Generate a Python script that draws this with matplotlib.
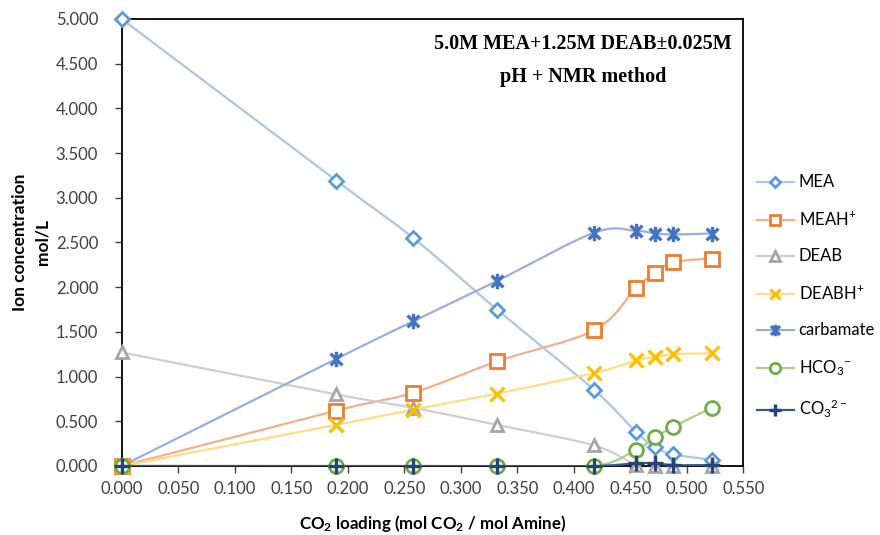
import numpy as np
import matplotlib
matplotlib.use("Agg")
import matplotlib.pyplot as plt
from matplotlib.path import Path

plt.rcParams['font.family'] = ['Lato', 'DejaVu Sans']
plt.rcParams['mathtext.fontset'] = 'custom'
plt.rcParams['mathtext.rm'] = 'Lato'
plt.rcParams['mathtext.bf'] = 'Lato:bold'
plt.rcParams['mathtext.it'] = 'Lato:italic'

loading = [0.0, 0.19, 0.258, 0.332, 0.418, 0.455, 0.472, 0.488, 0.522]
mea = [5.00, 3.19, 2.55, 1.75, 0.85, 0.38, 0.21, 0.13, 0.07]
meah = [0.00, 0.62, 0.82, 1.17, 1.52, 1.99, 2.16, 2.28, 2.32]
deab = [1.27, 0.80, 0.65, 0.46, 0.23, 0.01, 0.00, 0.00, 0.00]
deabh = [0.00, 0.46, 0.63, 0.81, 1.04, 1.18, 1.22, 1.25, 1.26]
carbamate = [0.00, 1.20, 1.62, 2.07, 2.61, 2.63, 2.60, 2.59, 2.60]
hco3 = [0.00, 0.00, 0.00, 0.00, 0.00, 0.18, 0.32, 0.44, 0.65]
co3 = [0.00, 0.00, 0.00, 0.00, 0.00, 0.03, 0.03, 0.01, 0.01]

labels = ['MEA', 'MEAH$^{+}$', 'DEAB', 'DEABH$^{+}$', 'carbamate',
          'HCO$_3$$^{-}$', 'CO$_3$$^{2-}$']
series = [mea, meah, deab, deabh, carbamate, hco3, co3]
marker_colors = ['#5B9BD5', '#ED7D31', '#A5A5A5', '#FFC000', '#4472C4', '#70AD47', '#264478']
line_colors = ['#A9C8E8', '#F2B08C', '#CFCFCF', '#FFDD80', '#9AAEDD', '#A9D18E', '#3A5A8C']

star = Path([(-1, -1), (1, 1), (-1, 1), (1, -1), (0, -1.3), (0, 1.3)],
            [Path.MOVETO, Path.LINETO, Path.MOVETO, Path.LINETO, Path.MOVETO, Path.LINETO])
markers = ['D', 's', '^', 'x', star, 'o', '+']
msizes = [7, 10, 9, 10, 11, 10, 11]
hollow = [True, True, True, False, False, True, False]


def smooth(x, y, n=30):
    x = np.asarray(x, float); y = np.asarray(y, float)
    px = np.concatenate([[x[0]], x, [x[-1]]])
    py = np.concatenate([[y[0]], y, [y[-1]]])
    xs, ys = [], []
    t = np.linspace(0, 1, n)
    for i in range(1, len(px) - 2):
        p0 = np.array([px[i], py[i]]); p3 = np.array([px[i + 1], py[i + 1]])
        p1 = p0 + (np.array([px[i + 1], py[i + 1]]) - np.array([px[i - 1], py[i - 1]])) / 6
        p2 = p3 - (np.array([px[i + 2], py[i + 2]]) - np.array([px[i], py[i]])) / 6
        b = ((1 - t) ** 3)[:, None] * p0 + (3 * (1 - t) ** 2 * t)[:, None] * p1 + \
            (3 * (1 - t) * t ** 2)[:, None] * p2 + (t ** 3)[:, None] * p3
        xs.extend(b[:, 0]); ys.extend(b[:, 1])
    return np.array(xs), np.array(ys)


fig = plt.figure(figsize=(8.8, 5.35), dpi=100)
ax = fig.add_axes([0.1383, 0.129, 0.7065, 0.8355])

for i, (lab, ys) in enumerate(zip(labels, series)):
    sx, sy = smooth(loading, ys)
    ax.plot(sx, sy, color=line_colors[i], lw=1.6, zorder=2 + i * 0.1)
    mk = dict(marker=markers[i], markersize=msizes[i])
    if hollow[i]:
        mk.update(markerfacecolor='white', markeredgecolor=marker_colors[i], markeredgewidth=2)
    else:
        mk.update(markerfacecolor=marker_colors[i], markeredgecolor=marker_colors[i],
                  markeredgewidth=2.4)
    ax.plot(loading, ys, linestyle='none', zorder=3 + i * 0.1, clip_on=False, **mk)
    # legend proxy
    ax.plot([], [], color=line_colors[i], lw=1.6, label=lab, **mk)

ax.set_xlim(0, 0.55)
ax.set_ylim(0, 5.0)
ax.set_xticks(np.arange(0, 0.5501, 0.05))
ax.set_yticks(np.arange(0, 5.001, 0.5))
ax.xaxis.set_major_formatter(matplotlib.ticker.FormatStrFormatter('%.3f'))
ax.yaxis.set_major_formatter(matplotlib.ticker.FormatStrFormatter('%.3f'))
ax.tick_params(axis='both', labelsize=12, length=5, width=1, colors='#404040')
ax.tick_params(axis='x', pad=6)
ax.tick_params(axis='y', pad=12)
for sp in ax.spines.values():
    sp.set_color('black')
    sp.set_linewidth(1.3)

ax.set_ylabel('Ion concentration\nmol/L', fontsize=12.5, fontweight='bold', labelpad=4,
              linespacing=1.45)
ax.set_xlabel(r'CO$_\mathbf{2}$ loading (mol CO$_\mathbf{2}$ / mol Amine)', fontsize=12.2,
              fontweight='bold', labelpad=11)

ax.text(0.742, 0.944, '5.0M MEA+1.25M DEAB\u00b10.025M', transform=ax.transAxes,
        ha='center', va='center', fontsize=14.5, fontweight='bold', family='Liberation Serif')
ax.text(0.742, 0.870, 'pH + NMR method', transform=ax.transAxes,
        ha='center', va='center', fontsize=14.5, fontweight='bold', family='Liberation Serif')

leg = fig.legend(loc='upper left', bbox_to_anchor=(0.843, 0.702), frameon=False,
                 fontsize=12, labelspacing=1.2, handlelength=2.2, handletextpad=0.3,
                 markerscale=0.75)

fig.savefig('out.png', dpi=100)
